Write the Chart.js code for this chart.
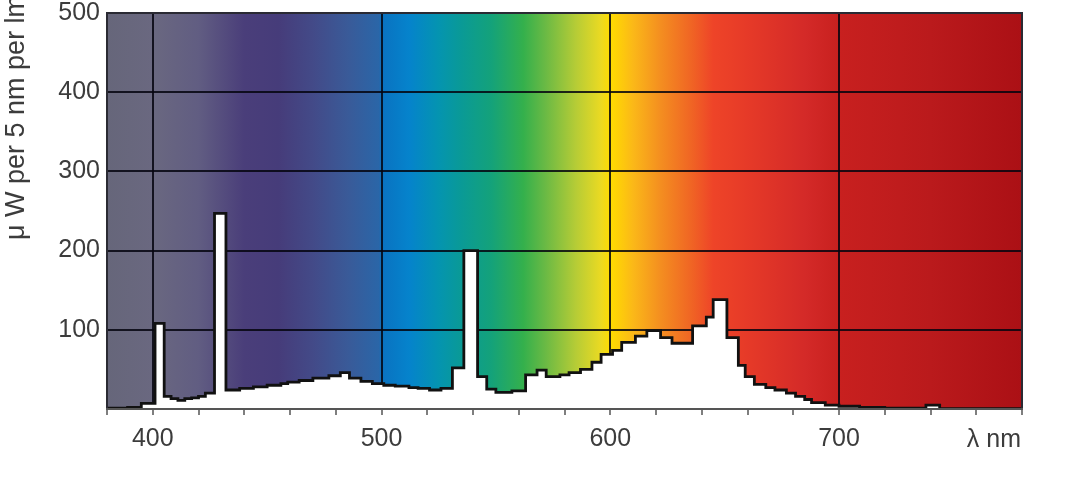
<!DOCTYPE html>
<html>
<head>
<meta charset="utf-8">
<script src="https://cdn.jsdelivr.net/npm/chart.js@4.4.0/dist/chart.umd.min.js"></script>
<style>
  html, body { margin: 0; padding: 0; background: #fff; }
  #wrap { width: 1068px; height: 484px; }
</style>
</head>
<body>
<div id="wrap"><canvas id="spectrumChart" width="1068" height="484"></canvas></div>
<script>
// wavelength (nm) where each 5 nm step starts
const wavelengths = [380, 389, 395, 401, 405, 408, 411, 414, 417, 420, 423, 427, 432, 438, 444, 450,
    456, 459, 464, 470, 477, 482, 486, 491, 496, 501, 506, 512, 516, 521, 526, 531,
    536, 542, 546, 550, 557, 563, 568, 572, 578, 582, 587, 592, 596, 601, 605, 611,
    616, 622, 627, 636, 642, 645, 651, 656, 659, 663, 668, 672, 677, 681, 685, 688,
    694, 700, 709, 720, 738, 744, 780];
// spectral power, µW per 5 nm per lm
const power = [1, 2, 7, 108, 16, 13, 11, 13, 14, 16, 20, 247, 24, 26, 28, 30,
    32, 34, 36, 39, 42, 46, 39, 35, 32, 30, 29, 27, 26, 24, 26, 52,
    200, 41, 25, 21, 23, 43, 49, 41, 43, 46, 50, 59, 69, 74, 84, 92,
    99, 90, 83, 105, 116, 138, 90, 55, 41, 31, 27, 24, 20, 16, 12, 8,
    5, 3.5, 2, 1, 5, 0.5, 0.5];
const xLabels = [400, 500, 600, 700];
const yLabels = [100, 200, 300, 400, 500];

// rainbow behind the plot
const rainbow = [
    [380, '#66667a'], [400, '#6a6880'], [420, '#615d82'], [440, '#4a3e7a'], [455, '#463c7a'],
    [470, '#434a88'], [485, '#3a5a98'], [499, '#2a66a8'], [500, '#0a72c0'], [512, '#0583cc'],
    [525, '#0494b0'], [535, '#0a9a96'], [548, '#14a27a'], [562, '#34b04c'], [572, '#6cba44'],
    [585, '#b6cc36'], [596, '#ebda22'], [600, '#ffdc00'], [610, '#fbb818'], [622, '#f48e20'],
    [635, '#f06624'], [645, '#ee4428'], [660, '#e63a28'], [685, '#d42a28'], [700, '#c8201f'],
    [740, '#ba1a1c'], [780, '#ab1015']
];

const textFont = "'Liberation Sans', Arial, sans-serif";
const textColor = '#3c3c3c';
const gridColor = 'rgba(5,5,15,0.85)';

// keep the plot box where the reference has it
function noScalePadding(scale) {
    scale.paddingTop = 0;
    scale.paddingBottom = 0;
    scale.paddingLeft = 0;
    scale.paddingRight = 0;
}

const spectrumPlugin = {
    id: 'spectrum',
    beforeDraw(chart) {
        const { ctx, chartArea: a, scales } = chart;
        const x0 = scales.x.getPixelForValue(380);
        const x1 = scales.x.getPixelForValue(780);
        const grad = ctx.createLinearGradient(x0, 0, x1, 0);
        rainbow.forEach(([nm, c]) => grad.addColorStop((nm - 380) / 400, c));
        ctx.save();
        ctx.fillStyle = grad;
        ctx.fillRect(a.left, a.top, a.right - a.left, a.bottom - a.top);
        ctx.restore();
    },
    afterDatasetsDraw(chart) {
        const { ctx, chartArea: a } = chart;
        ctx.save();
        ctx.strokeStyle = '#2a2a33';
        ctx.lineWidth = 2;
        ctx.beginPath();
        ctx.moveTo(a.left, a.bottom);
        ctx.lineTo(a.left, a.top);
        ctx.lineTo(a.right, a.top);
        ctx.lineTo(a.right, a.bottom);
        ctx.stroke();
        ctx.strokeStyle = '#555';
        ctx.lineWidth = 2;
        ctx.beginPath();
        ctx.moveTo(a.left - 1, a.bottom);
        ctx.lineTo(a.right + 1, a.bottom);
        ctx.stroke();
        ctx.restore();
    },
    afterDraw(chart) {
        const { ctx, chartArea: a } = chart;
        ctx.save();
        ctx.fillStyle = textColor;
        ctx.font = '25px ' + textFont;
        ctx.textAlign = 'right';
        ctx.textBaseline = 'alphabetic';
        ctx.fillText('λ nm', a.right - 1, 447);
        ctx.translate(17, 240);
        ctx.rotate(-Math.PI / 2);
        ctx.font = '27px ' + textFont;
        ctx.textAlign = 'left';
        ctx.textBaseline = 'middle';
        ctx.fillText('μ W per 5 nm per lm', 0, 0);
        ctx.restore();
    }
};

const points = wavelengths.map((nm, i) => ({ x: nm, y: power[i] }));

const spectrumChart = new Chart(document.getElementById('spectrumChart').getContext('2d'), {
    type: 'line',
    data: {
        datasets: [{
            label: 'Spectrum',
            data: points,
            stepped: 'before',
            fill: 'origin',
            backgroundColor: '#ffffff',
            borderColor: '#111111',
            borderWidth: 2.8,
            pointRadius: 0,
            tension: 0
        }]
    },
    options: {
        responsive: false,
        animation: false,
        layout: {
            padding: { top: 13, right: 46, left: 0, bottom: 0 }
        },
        plugins: {
            legend: { display: false },
            tooltip: { enabled: false }
        },
        scales: {
            x: {
                type: 'linear',
                min: 380,
                max: 780,
                afterFit: (scale) => { scale.height = 75; noScalePadding(scale); },
                border: { display: false },
                grid: {
                    color: (c) => xLabels.includes(c.tick.value) ? gridColor : 'rgba(0,0,0,0)',
                    lineWidth: 2,
                    drawTicks: true,
                    tickLength: 6,
                    tickColor: '#555',
                    tickWidth: 1.5
                },
                ticks: {
                    stepSize: 20,
                    autoSkip: false,
                    maxRotation: 0,
                    padding: 9,
                    color: textColor,
                    font: { family: textFont, size: 25 },
                    callback: (v) => xLabels.includes(v) ? String(v) : ''
                }
            },
            y: {
                min: 0,
                max: 500,
                afterFit: (scale) => { scale.width = 107; noScalePadding(scale); },
                border: { display: false },
                grid: {
                    color: gridColor,
                    lineWidth: 2,
                    drawTicks: false
                },
                ticks: {
                    stepSize: 100,
                    padding: 7,
                    color: textColor,
                    font: { family: textFont, size: 25, lineHeight: 1 },
                    callback: (v) => yLabels.includes(v) ? String(v) : ''
                }
            }
        }
    },
    plugins: [spectrumPlugin]
});
</script>
</body>
</html>
